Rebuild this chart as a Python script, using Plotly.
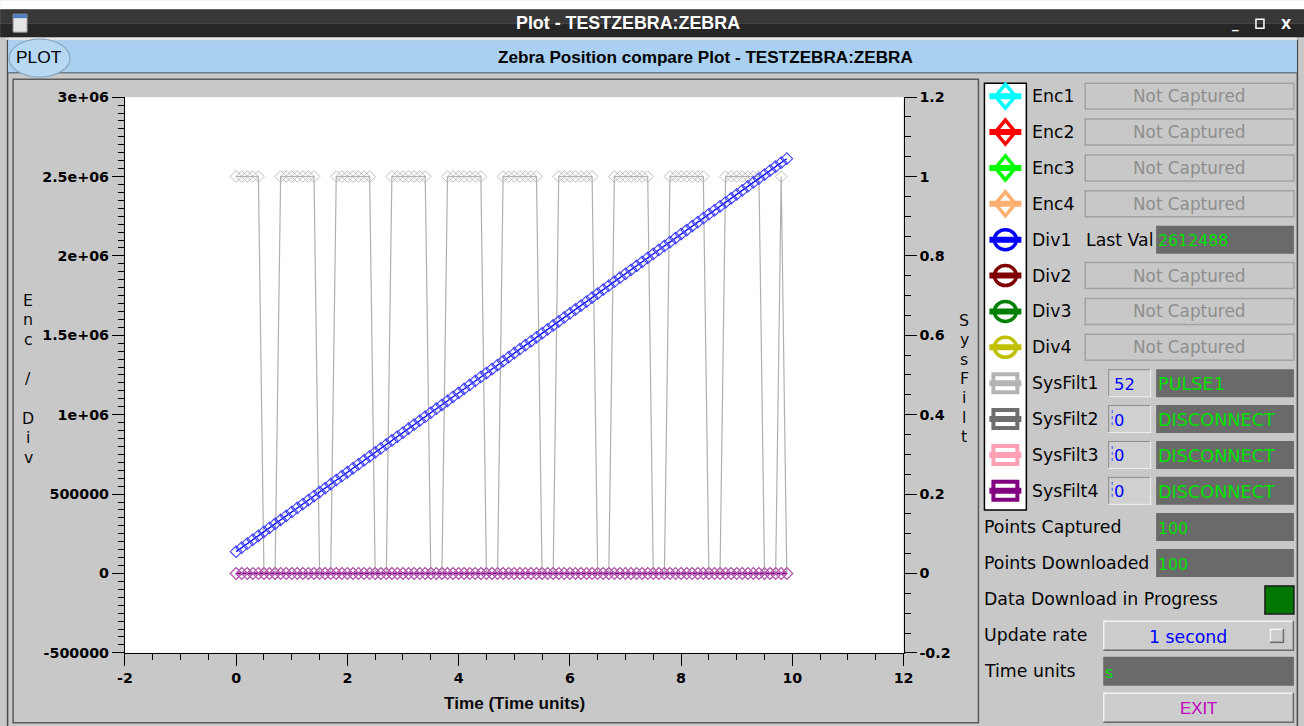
import plotly.graph_objects as go

# Figure size requested
W, H = 1304, 726
# Empirically the page is photographed with the 8px body margin and scaled
# from (W+16)x(H+16) to WxH, so layout positions are pre-compensated.
MARGIN = 8
SX = (W + 2 * MARGIN) / W
SY = (H + 2 * MARGIN) / H
FS = 1.02  # font compensation

# ---------------- data ----------------
time_s = [
    0.0, 0.1, 0.2, 0.3, 0.4, 0.5, 0.6, 0.7, 0.8, 0.9,
    1.0, 1.1, 1.2, 1.3, 1.4, 1.5, 1.6, 1.7, 1.8, 1.9,
    2.0, 2.1, 2.2, 2.3, 2.4, 2.5, 2.6, 2.7, 2.8, 2.9,
    3.0, 3.1, 3.2, 3.3, 3.4, 3.5, 3.6, 3.7, 3.8, 3.9,
    4.0, 4.1, 4.2, 4.3, 4.4, 4.5, 4.6, 4.7, 4.8, 4.9,
    5.0, 5.1, 5.2, 5.3, 5.4, 5.5, 5.6, 5.7, 5.8, 5.9,
    6.0, 6.1, 6.2, 6.3, 6.4, 6.5, 6.6, 6.7, 6.8, 6.9,
    7.0, 7.1, 7.2, 7.3, 7.4, 7.5, 7.6, 7.7, 7.8, 7.9,
    8.0, 8.1, 8.2, 8.3, 8.4, 8.5, 8.6, 8.7, 8.8, 8.9,
    9.0, 9.1, 9.2, 9.3, 9.4, 9.5, 9.6, 9.7, 9.8, 9.9,
]

div1 = [
    137488, 162488, 187488, 212488, 237488, 262488, 287488, 312488, 337488, 362488,
    387488, 412488, 437488, 462488, 487488, 512488, 537488, 562488, 587488, 612488,
    637488, 662488, 687488, 712488, 737488, 762488, 787488, 812488, 837488, 862488,
    887488, 912488, 937488, 962488, 987488, 1012488, 1037488, 1062488, 1087488, 1112488,
    1137488, 1162488, 1187488, 1212488, 1237488, 1262488, 1287488, 1312488, 1337488, 1362488,
    1387488, 1412488, 1437488, 1462488, 1487488, 1512488, 1537488, 1562488, 1587488, 1612488,
    1637488, 1662488, 1687488, 1712488, 1737488, 1762488, 1787488, 1812488, 1837488, 1862488,
    1887488, 1912488, 1937488, 1962488, 1987488, 2012488, 2037488, 2062488, 2087488, 2112488,
    2137488, 2162488, 2187488, 2212488, 2237488, 2262488, 2287488, 2312488, 2337488, 2362488,
    2387488, 2412488, 2437488, 2462488, 2487488, 2512488, 2537488, 2562488, 2587488, 2612488,
]

sysfilt1 = [
    1, 1, 1, 1, 1, 0, 0, 0, 1, 1,
    1, 1, 1, 1, 1, 0, 0, 0, 1, 1,
    1, 1, 1, 1, 1, 0, 0, 0, 1, 1,
    1, 1, 1, 1, 1, 0, 0, 0, 1, 1,
    1, 1, 1, 1, 1, 0, 0, 0, 1, 1,
    1, 1, 1, 1, 1, 0, 0, 0, 1, 1,
    1, 1, 1, 1, 1, 0, 0, 0, 1, 1,
    1, 1, 1, 1, 1, 0, 0, 0, 1, 1,
    1, 1, 1, 1, 1, 0, 0, 0, 1, 1,
    1, 1, 1, 1, 1, 0, 0, 0, 1, 0,
]

sysfilt_zero = [
    0, 0, 0, 0, 0, 0, 0, 0, 0, 0,
    0, 0, 0, 0, 0, 0, 0, 0, 0, 0,
    0, 0, 0, 0, 0, 0, 0, 0, 0, 0,
    0, 0, 0, 0, 0, 0, 0, 0, 0, 0,
    0, 0, 0, 0, 0, 0, 0, 0, 0, 0,
    0, 0, 0, 0, 0, 0, 0, 0, 0, 0,
    0, 0, 0, 0, 0, 0, 0, 0, 0, 0,
    0, 0, 0, 0, 0, 0, 0, 0, 0, 0,
    0, 0, 0, 0, 0, 0, 0, 0, 0, 0,
    0, 0, 0, 0, 0, 0, 0, 0, 0, 0,
]
sysfilt2 = list(sysfilt_zero)
sysfilt3 = list(sysfilt_zero)
sysfilt4 = list(sysfilt_zero)

x_tickvals = [-2, 0, 2, 4, 6, 8, 10, 12]
x_ticktext = ["-2", "0", "2", "4", "6", "8", "10", "12"]
left_tickvals = [-500000, 0, 500000, 1000000, 1500000, 2000000, 2500000, 3000000]
left_ticktext = ["-500000", "0", "500000", "1e+06", "1.5e+06", "2e+06", "2.5e+06", "3e+06"]
right_tickvals = [-0.2, 0, 0.2, 0.4, 0.6, 0.8, 1.0, 1.2]
right_ticktext = ["-0.2", "0", "0.2", "0.4", "0.6", "0.8", "1", "1.2"]

channel_names = ["Enc1", "Enc2", "Enc3", "Enc4", "Div1", "Div2", "Div3", "Div4",
                 "SysFilt1", "SysFilt2", "SysFilt3", "SysFilt4"]
channel_colors = ["#00ffff", "#ff0000", "#00ff00", "#ffb070", "#0000ff", "#800000",
                  "#008000", "#c0c000", "#b4b4b4", "#6e6e6e", "#ffa0b4", "#800080"]
channel_kinds = ["diamond", "diamond", "diamond", "diamond", "circle", "circle",
                 "circle", "circle", "square", "square", "square", "square"]
div1_last = "2612488"
sysfilt_ids = ["52", "0", "0", "0"]
sysfilt_sources = ["PULSE1", "DISCONNECT", "DISCONNECT", "DISCONNECT"]
points_captured = "100"
points_downloaded = "100"
update_rate = "1 second"
time_units = "s"

# ---------------- helpers (target screen pixel -> paper) ----------------
def X(px):
    return (px * SX - MARGIN) / W


def Y(py):
    return 1 - (py * SY - MARGIN) / H


shapes = []
annotations = []
NONE = "rgba(0,0,0,0)"


def rect(x0, y0, x1, y1, fill=None, line=None, lw=1.0):
    shapes.append(dict(type="rect", xref="paper", yref="paper",
                       x0=X(x0), x1=X(x1), y0=Y(y1), y1=Y(y0),
                       fillcolor=fill or NONE,
                       line=dict(color=line or NONE, width=lw if line else 0)))


def hline(x0, x1, y, color, lw=1.0, dash="solid"):
    shapes.append(dict(type="line", xref="paper", yref="paper",
                       x0=X(x0), x1=X(x1), y0=Y(y), y1=Y(y),
                       line=dict(color=color, width=lw, dash=dash)))


def vline(x, y0, y1, color, lw=1.0, dash="solid"):
    shapes.append(dict(type="line", xref="paper", yref="paper",
                       x0=X(x), x1=X(x), y0=Y(y0), y1=Y(y1),
                       line=dict(color=color, width=lw, dash=dash)))


def ellipse(x0, y0, x1, y1, fill, line, lw=1.0):
    shapes.append(dict(type="circle", xref="paper", yref="paper",
                       x0=X(x0), x1=X(x1), y0=Y(y1), y1=Y(y0),
                       fillcolor=fill, line=dict(color=line, width=lw)))


def diamond(cx, cy, hw, hh, fill, line, lw):
    pts = [(cx, cy - hh), (cx + hw, cy), (cx, cy + hh), (cx - hw, cy)]
    path = "M " + " L ".join(f"{X(a):.5f},{Y(b):.5f}" for a, b in pts) + " Z"
    shapes.append(dict(type="path", xref="paper", yref="paper", path=path,
                       fillcolor=fill, line=dict(color=line, width=lw)))


def text(x, y, s, size=15.5, color="#000000", anchor="left",
         family="DejaVu Sans", weight="normal"):
    annotations.append(dict(xref="paper", yref="paper", x=X(x), y=Y(y),
                            text=s, showarrow=False, xanchor=anchor,
                            yanchor="middle", borderpad=0,
                            font=dict(family=family, size=size * FS, color=color,
                                      weight=weight)))


def label(x, y, s):
    text(x, y, s, size=17, color="#050505")


def sunken(x0, y0, x1, y1, fill):
    rect(x0, y0, x1, y1, fill=fill)
    hline(x0, x1, y0 + 0.5, "#8a8a8a", 1)
    vline(x0 + 0.5, y0, y1, "#8a8a8a", 1)
    hline(x0, x1, y1 - 0.5, "#f0f0f0", 1)
    vline(x1 - 0.5, y0, y1, "#f0f0f0", 1)


def raised(x0, y0, x1, y1, fill):
    rect(x0, y0, x1, y1, fill=fill)
    hline(x0, x1, y0 + 0.5, "#f4f4f4", 1.5)
    vline(x0 + 0.5, y0, y1, "#f4f4f4", 1.5)
    hline(x0, x1, y1 - 0.5, "#6a6a6a", 1.5)
    vline(x1 - 0.5, y0, y1, "#6a6a6a", 1.5)


# ---------------- window chrome ----------------
rect(0, 0, 1310, 9, fill="#ffffff")
rect(0, 9, 1310, 23, fill="#383838")
rect(0, 23, 1310, 37, fill="#262626")
text(629, 23, "<b>Plot - TESTZEBRA:ZEBRA</b>", size=17.5, color="#ffffff",
     anchor="center", family="Liberation Sans")
rect(13, 14, 27, 32, fill="#e6e6e6", line="#9a9a9a", lw=1)
rect(13, 14, 27, 18, fill="#5080c0")
text(1237, 24, "<b>_</b>", size=13, color="#ffffff", anchor="center")
rect(1258, 19, 1266, 28, line="#ffffff", lw=1.5)
text(1288, 24, "<b>X</b>", size=13, color="#ffffff", anchor="center")

vline(7.5, 37, 730, "#4a4a4a", 1.5)
vline(1299.5, 37, 730, "#4a4a4a", 1.5)

hline(6, 1300, 38.5, "#ececec", 2)
rect(8, 40, 1299, 72, fill="#a9d0f0")
hline(8, 1299, 72.5, "#6a7c8c", 1.5)
ellipse(9, 39, 70, 77, fill="#b6d8f3", line="#8aa6bf", lw=1.2)
text(39, 57, "PLOT", size=17, color="#000000", anchor="center",
     family="Liberation Sans")
text(707, 57, "<b>Zebra Position compare Plot - TESTZEBRA:ZEBRA</b>", size=16.8,
     color="#000000", anchor="center", family="Liberation Sans")

rect(13, 79, 980, 723, line="#5a5a5a", lw=1.5)

# ---------------- axis titles ----------------
left_title = ["E", "n", "c", "", "/", "", "D", "i", "v"]
for i, ch in enumerate(left_title):
    if ch:
        text(28, 300 + 19.7 * i, ch, size=15.5, color="#0a0a0a", anchor="center")
right_title = ["S", "y", "s", "F", "i", "l", "t"]
for i, ch in enumerate(right_title):
    text(966, 320 + 19.5 * i, ch, size=15.5, color="#0a0a0a", anchor="center")
text(515, 703, "<b>Time (Time units)</b>", size=16.8, color="#0a0a0a",
     anchor="center", family="Liberation Sans")

# ---------------- right panel ----------------
rect(986, 83, 1028, 510, fill="#ffffff", line="#000000", lw=1.5)
for i, (name, col, kind) in enumerate(zip(channel_names, channel_colors, channel_kinds)):
    cy = 96 + 35.9 * i
    cx = 1007
    if kind == "diamond":
        diamond(cx, cy, 10, 12, "#ffffff", col, 3.5)
    elif kind == "circle":
        ellipse(cx - 11, cy - 10, cx + 11, cy + 10, "#ffffff", col, 3.5)
    else:
        shapes.append(dict(type="rect", xref="paper", yref="paper",
                           x0=X(cx - 12), x1=X(cx + 12), y0=Y(cy + 9), y1=Y(cy - 9),
                           fillcolor="#ffffff", line=dict(color=col, width=4)))
    hline(991, 1023, cy, col, 6)
    label(1033, cy, name)

    if name.startswith("Enc") or name in ("Div2", "Div3", "Div4"):
        rect(1087, cy - 13, 1296, cy + 13, fill="#c8c8c8", line="#a2a2a2", lw=1.5)
        text(1191, cy, "Not Captured", size=16.5, color="#8e8e8e", anchor="center")
    elif name == "Div1":
        label(1087, cy, "Last Val")
        rect(1158, cy - 14, 1296, cy + 14, fill="#6a6a6a")
        text(1159, cy + 1, div1_last, size=15.5, color="#00e000")
    else:
        k = int(name[-1]) - 1
        sunken(1110, cy - 14, 1153, cy + 14, "#d0d0d0")
        if sysfilt_ids[k] == "0":
            vline(1114, cy - 9, cy + 9, "#3050ff", 1, "dot")
        text(1115, cy + 1, sysfilt_ids[k], size=16, color="#0000ff")
        rect(1158, cy - 14, 1296, cy + 14, fill="#6a6a6a")
        text(1159, cy + 1, sysfilt_sources[k], size=17.3, color="#00e000")

label(985, 527, "Points Captured")
rect(1158, 513, 1296, 541, fill="#6a6a6a")
text(1159, 529, points_captured, size=15.5, color="#00e000")

label(985, 563, "Points Downloaded")
rect(1158, 549, 1296, 577, fill="#6a6a6a")
text(1159, 565, points_downloaded, size=15.5, color="#00e000")

label(985, 599, "Data Download in Progress")
rect(1267, 586, 1296, 614, fill="#007800", line="#1a1a1a", lw=1.5)

label(985, 635, "Update rate")
raised(1105, 621, 1296, 651, "#cccccc")
text(1190, 637, update_rate, size=17, color="#0000ff", anchor="center")
raised(1272, 629, 1286, 643, "#cccccc")

label(985, 671, "Time units")
rect(1105, 657, 1296, 686, fill="#6a6a6a")
text(1106, 673, time_units, size=15.5, color="#00e000")

raised(1105, 693, 1296, 723, "#cccccc")
text(1200, 709, "EXIT", size=16.5, color="#c000c0", anchor="center",
     family="Liberation Sans")

# ---------------- traces ----------------
fig = go.Figure()
fig.add_trace(go.Scatter(
    x=time_s, y=sysfilt1, yaxis="y", mode="lines+markers",
    line=dict(color="#b0b0b0", width=1.2),
    marker=dict(symbol="diamond-open", size=9, color="#bcbcbc", line=dict(width=1)),
    hoverinfo="skip", showlegend=False))
fig.add_trace(go.Scatter(
    x=time_s, y=sysfilt2, yaxis="y", mode="lines+markers",
    line=dict(color="#6e6e6e", width=1.2),
    marker=dict(symbol="diamond-open", size=9, color="#6e6e6e", line=dict(width=1)),
    hoverinfo="skip", showlegend=False))
fig.add_trace(go.Scatter(
    x=time_s, y=sysfilt3, yaxis="y", mode="lines+markers",
    line=dict(color="#ffa0b4", width=1.2),
    marker=dict(symbol="diamond-open", size=9, color="#ffa0b4", line=dict(width=1)),
    hoverinfo="skip", showlegend=False))
fig.add_trace(go.Scatter(
    x=time_s, y=sysfilt4, yaxis="y", mode="lines+markers",
    line=dict(color="#800080", width=2),
    marker=dict(symbol="diamond-open", size=9, color="#b45ab4", line=dict(width=1.2)),
    hoverinfo="skip", showlegend=False))
fig.add_trace(go.Scatter(
    x=time_s, y=div1, yaxis="y2", mode="lines+markers",
    line=dict(color="#0000ff", width=1.3),
    marker=dict(symbol="diamond-open", size=9, color="#4040ff", line=dict(width=1.1)),
    hoverinfo="skip", showlegend=False))

tickfont = dict(family="DejaVu Sans", size=14 * FS, color="#000000", weight="bold")
common = dict(ticks="outside", ticklen=12, tickwidth=1, tickcolor="#000000",
              showline=True, linecolor="#000000", linewidth=1, showgrid=False,
              zeroline=False, tickfont=tickfont, fixedrange=True, tickmode="array")

fig.update_layout(
    width=W, height=H, margin=dict(l=0, r=0, t=0, b=0),
    paper_bgcolor="#c8c8c8", plot_bgcolor="#ffffff", showlegend=False,
    xaxis=dict(domain=[X(125), X(905)], range=[-2, 12], anchor="y",
               tickvals=x_tickvals, ticktext=x_ticktext,
               minor=dict(tickmode="linear", tick0=0, dtick=0.5, ticks="outside",
                          ticklen=6, tickcolor="#000000", showgrid=False),
               **common),
    yaxis=dict(domain=[Y(653), Y(97)], range=[-0.2, 1.2], side="right", anchor="x",
               tickvals=right_tickvals, ticktext=right_ticktext,
               minor=dict(tickmode="linear", tick0=0, dtick=0.05, ticks="outside",
                          ticklen=6, tickcolor="#000000", showgrid=False),
               **common),
    yaxis2=dict(overlaying="y", side="left", anchor="x", range=[-500000, 3000000],
                tickvals=left_tickvals, ticktext=left_ticktext,
                minor=dict(tickmode="linear", tick0=0, dtick=50000, ticks="outside",
                           ticklen=6, tickcolor="#000000", showgrid=False),
                **common),
    shapes=shapes,
    annotations=annotations,
)

fig.write_html("out.html")
